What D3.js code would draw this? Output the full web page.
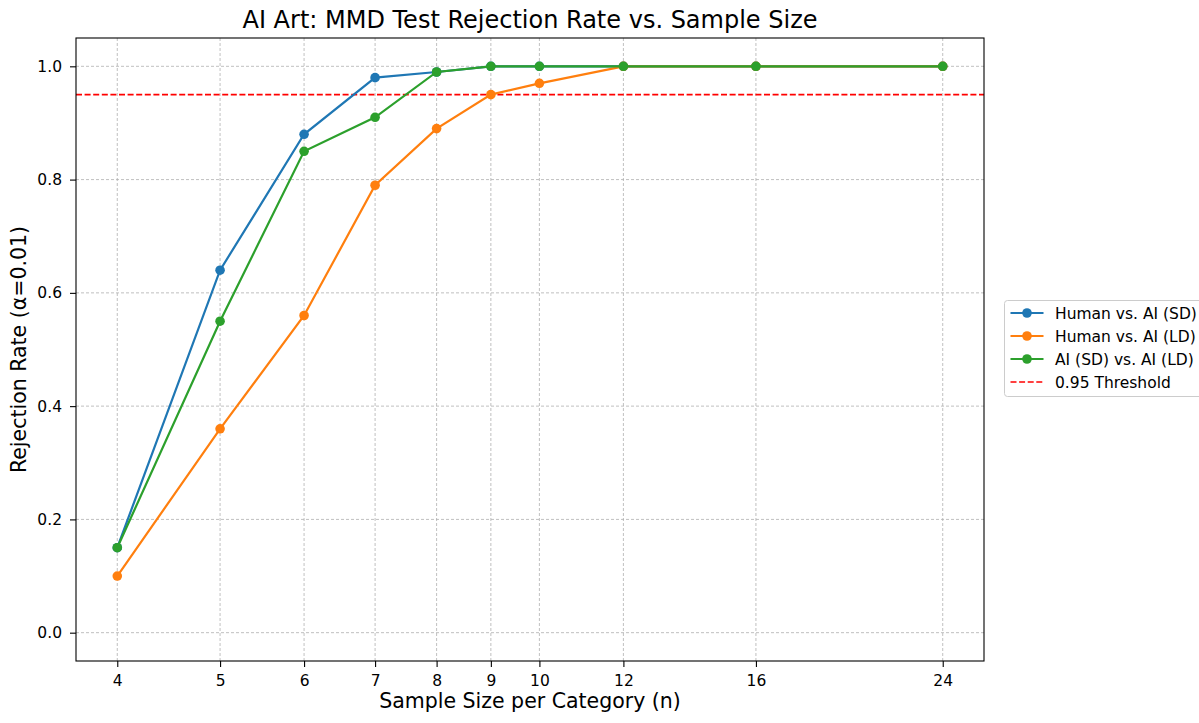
<!DOCTYPE html>
<html><head><meta charset="utf-8">
<script src="https://cdn.jsdelivr.net/npm/d3@7"></script>
<style>body{margin:0;background:#fff}text{font-family:"DejaVu Sans",sans-serif}</style>
</head><body>
<script>
const sampleSizes = [4, 5, 6, 7, 8, 9, 10, 12, 16, 24];
const humanVsSD = [0.15, 0.64, 0.88, 0.98, 0.99, 1.0, 1.0, 1.0, 1.0, 1.0];
const humanVsLD = [0.10, 0.36, 0.56, 0.79, 0.89, 0.95, 0.97, 1.0, 1.0, 1.0];
const sdVsLD = [0.15, 0.55, 0.85, 0.91, 0.99, 1.0, 1.0, 1.0, 1.0, 1.0];
const seriesNames = ["Human vs. AI (SD)", "Human vs. AI (LD)", "AI (SD) vs. AI (LD)"];
const seriesColors = ["#1f77b4", "#ff7f0e", "#2ca02c"];
const yTicks = [0.0, 0.2, 0.4, 0.6, 0.8, 1.0];
const threshold = 0.95;

const W = 1199, H = 723;
const L = 76, R = 984, T = 38, B = 661;
const svg = d3.select("body").append("svg").attr("width", W).attr("height", H);

const lx = Math.log2(4), hx = Math.log2(24), pad = (hx - lx) * 0.05;
const x = d3.scaleLog().base(2).domain([Math.pow(2, lx - pad), Math.pow(2, hx + pad)]).range([L, R]);
const y = d3.scaleLinear().domain([-0.05, 1.05]).range([B, T]);

// grid
const g = svg.append("g");
g.selectAll(".gx").data(sampleSizes).enter().append("line")
  .attr("x1", d => x(d)).attr("x2", d => x(d)).attr("y1", T).attr("y2", B)
  .attr("stroke", "#b0b0b0").attr("stroke-width", 0.8).attr("stroke-dasharray", "3,2");
g.selectAll(".gy").data(yTicks).enter().append("line")
  .attr("y1", d => y(d)).attr("y2", d => y(d)).attr("x1", L).attr("x2", R)
  .attr("stroke", "#b0b0b0").attr("stroke-width", 0.8).attr("stroke-dasharray", "3,2");

// axes
const xAxis = d3.axisBottom(x).tickValues(sampleSizes).tickFormat(d3.format("d")).tickSize(6).tickPadding(8);
const yAxis = d3.axisLeft(y).tickValues(yTicks).tickFormat(d3.format(".1f")).tickSize(6).tickPadding(8);
const ax = svg.append("g").attr("transform", `translate(0,${B})`).call(xAxis);
const ay = svg.append("g").attr("transform", `translate(${L},0)`).call(yAxis);
[ax, ay].forEach(a => {
  a.select(".domain").remove();
  a.selectAll("text").attr("font-size", 15.5).attr("fill", "#000").style("font-family", "DejaVu Sans");
  a.selectAll("line").attr("stroke", "#000").attr("stroke-width", 1.1);
});

// threshold
svg.append("line").attr("x1", L).attr("x2", R).attr("y1", y(threshold)).attr("y2", y(threshold))
  .attr("stroke", "#ff0000").attr("stroke-width", 1.6).attr("stroke-dasharray", "6,2.6");

// series
const allSeries = [humanVsSD, humanVsLD, sdVsLD];
const line = d3.line().x((d, i) => x(sampleSizes[i])).y(d => y(d));
allSeries.forEach((vals, k) => {
  svg.append("path").datum(vals).attr("d", line).attr("fill", "none")
    .attr("stroke", seriesColors[k]).attr("stroke-width", 2.2);
  svg.selectAll(".pt" + k).data(vals).enter().append("circle")
    .attr("cx", (d, i) => x(sampleSizes[i])).attr("cy", d => y(d)).attr("r", 4.8)
    .attr("fill", seriesColors[k]);
});

// frame
svg.append("rect").attr("x", L).attr("y", T).attr("width", R - L).attr("height", B - T)
  .attr("fill", "none").attr("stroke", "#000").attr("stroke-width", 1.1);

// title & labels
svg.append("text").attr("x", (L + R) / 2).attr("y", 28).attr("text-anchor", "middle")
  .attr("font-size", 24).text("AI Art: MMD Test Rejection Rate vs. Sample Size");
svg.append("text").attr("x", (L + R) / 2).attr("y", 708).attr("text-anchor", "middle")
  .attr("font-size", 20.5).text("Sample Size per Category (n)");
svg.append("text").attr("transform", `translate(26,${(T + B) / 2}) rotate(-90)`).attr("text-anchor", "middle")
  .attr("font-size", 20.5).text("Rejection Rate (α=0.01)");

// legend
const lg = svg.append("g").attr("transform", "translate(1004.5,300.5)");
lg.append("rect").attr("x", 0).attr("y", 0).attr("width", 205).attr("height", 96).attr("rx", 3)
  .attr("fill", "#fff").attr("stroke", "#ccc").attr("stroke-width", 1);
const legItems = seriesNames.map((n, i) => ({name: n, color: seriesColors[i], dash: false}))
  .concat([{name: threshold.toFixed(2) + " Threshold", color: "#ff0000", dash: true}]);
legItems.forEach((it, i) => {
  const cy = 12.5 + i * 23;
  lg.append("line").attr("x1", 6).attr("x2", 39).attr("y1", cy).attr("y2", cy)
    .attr("stroke", it.color).attr("stroke-width", it.dash ? 1.6 : 2.2)
    .attr("stroke-dasharray", it.dash ? "6,2.6" : null);
  if (!it.dash) lg.append("circle").attr("cx", 22.5).attr("cy", cy).attr("r", 4.8).attr("fill", it.color);
  lg.append("text").attr("x", 50.5).attr("y", cy + 5.5).attr("font-size", 15.5).text(it.name);
});
</script>
</body></html>
